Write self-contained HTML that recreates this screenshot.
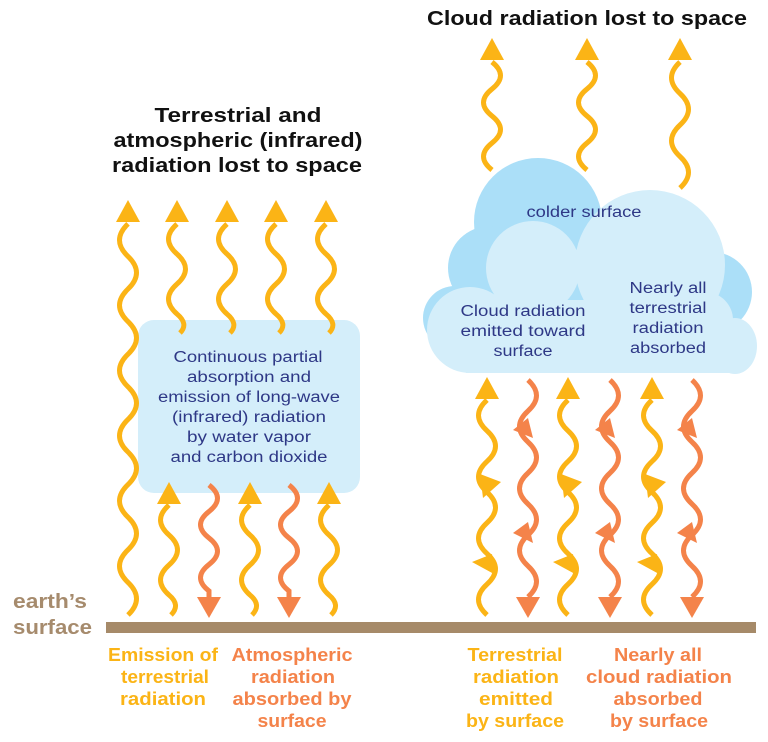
<!DOCTYPE html>
<html><head><meta charset="utf-8"><style>
html,body{margin:0;padding:0;background:#fff;}
svg{display:block;}
text{font-family:"Liberation Sans",sans-serif;}
.t{font-weight:bold;font-size:20px;fill:#111;text-anchor:middle;}
.n{font-size:15.5px;fill:#2e3886;text-anchor:middle;}
.y{font-weight:bold;font-size:18px;fill:#fbb416;text-anchor:middle;}
.o{font-weight:bold;font-size:18px;fill:#f4834a;text-anchor:middle;}
.wy{fill:none;stroke:#fbb416;stroke-width:5;}
.wo{fill:none;stroke:#f4834a;stroke-width:5;}
.hy{fill:#fbb416;}
.ho{fill:#f4834a;}
</style></head><body>
<svg width="768" height="742" viewBox="0 0 768 742" xmlns="http://www.w3.org/2000/svg">
<!-- titles -->
<text class="t" x="238" y="122" textLength="167" lengthAdjust="spacingAndGlyphs">Terrestrial and</text>
<text class="t" x="238" y="147" textLength="249" lengthAdjust="spacingAndGlyphs">atmospheric (infrared)</text>
<text class="t" x="237" y="172" textLength="250" lengthAdjust="spacingAndGlyphs">radiation lost to space</text>
<text class="t" x="587" y="25" textLength="320" lengthAdjust="spacingAndGlyphs">Cloud radiation lost to space</text>

<!-- left box -->
<rect x="138" y="320" width="222" height="173" rx="16" fill="#d4eefa"/>
<text class="n" x="248" y="362" textLength="149" lengthAdjust="spacingAndGlyphs">Continuous partial</text>
<text class="n" x="249" y="382" textLength="124" lengthAdjust="spacingAndGlyphs">absorption and</text>
<text class="n" x="249" y="402" textLength="182" lengthAdjust="spacingAndGlyphs">emission of long-wave</text>
<text class="n" x="249" y="422" textLength="154" lengthAdjust="spacingAndGlyphs">(infrared) radiation</text>
<text class="n" x="249" y="442" textLength="124" lengthAdjust="spacingAndGlyphs">by water vapor</text>
<text class="n" x="249" y="462" textLength="157" lengthAdjust="spacingAndGlyphs">and carbon dioxide</text>

<!-- left top short arrows -->
<path class="wy" d="M177 224 q-17 15 0 30 t0 30 t0 30 q12 10 3 19"/>
<path class="wy" d="M227 224 q-17 15 0 30 t0 30 t0 30 q12 10 3 19"/>
<path class="wy" d="M276 224 q-17 15 0 30 t0 30 t0 30 q12 10 3 19"/>
<path class="wy" d="M326 224 q-17 15 0 30 t0 30 t0 30 q12 10 3 19"/>
<polygon class="hy" points="165,222 189,222 177,200"/>
<polygon class="hy" points="215,222 239,222 227,200"/>
<polygon class="hy" points="264,222 288,222 276,200"/>
<polygon class="hy" points="314,222 338,222 326,200"/>
<!-- long arrow -->
<path class="wy" d="M128 615 q17 -16.3 0 -32.6 t0 -32.6 t0 -32.6 t0 -32.6 t0 -32.6 t0 -32.6 t0 -32.6 t0 -32.6 t0 -32.6 t0 -32.6 t0 -32.6 t0 -32.6"/>
<polygon class="hy" points="116,222 140,222 128,200"/>

<!-- bottom-left arrows -->
<path class="wy" d="M169 505 q-17 15 0 30 t0 30 t0 30 q12 10 2 20"/>
<path class="wy" d="M250 505 q-17 15 0 30 t0 30 t0 30 q12 10 2 20"/>
<path class="wy" d="M329 505 q-17 15 0 30 t0 30 t0 30 q12 10 2 20"/>
<polygon class="hy" points="157,504 181,504 169,482"/>
<polygon class="hy" points="238,504 262,504 250,482"/>
<polygon class="hy" points="317,504 341,504 329,482"/>
<path class="wo" d="M209 485 q17 13.25 0 26.5 t0 26.5 t0 26.5 t0 26.5 L209 598"/>
<path class="wo" d="M289 485 q17 13.25 0 26.5 t0 26.5 t0 26.5 t0 26.5 L289 598"/>
<polygon class="ho" points="197,597 221,597 209,618"/>
<polygon class="ho" points="277,597 301,597 289,618"/>

<!-- top-right arrows -->
<path class="wy" d="M492 170 q-17 -13.5 0 -27 t0 -27 t0 -27 t0 -27"/>
<path class="wy" d="M587 170 q-17 -13.5 0 -27 t0 -27 t0 -27 t0 -27"/>
<path class="wy" d="M680 188 q17 -15.75 0 -31.5 t0 -31.5 t0 -31.5 t0 -31.5"/>
<polygon class="hy" points="480,60 504,60 492,38"/>
<polygon class="hy" points="575,60 599,60 587,38"/>
<polygon class="hy" points="668,60 692,60 680,38"/>

<!-- cloud back -->
<g fill="#abdff8">
<circle cx="538" cy="222" r="64"/>
<circle cx="490" cy="268" r="42"/>
<circle cx="455" cy="318" r="32"/>
<circle cx="712" cy="292" r="40"/>
<rect x="462" y="262" width="256" height="80"/>
</g>
<!-- cloud front -->
<g fill="#d4eefa">
<circle cx="650" cy="265" r="75"/>
<circle cx="533" cy="268" r="47"/>
<circle cx="470" cy="330" r="43"/>
<circle cx="705" cy="320" r="28"/>
<ellipse cx="735" cy="346" rx="22" ry="28"/>
<rect x="466" y="300" width="250" height="73"/>
<rect x="466" y="330" width="268" height="43"/>
</g>
<text class="n" x="584" y="217" textLength="115" lengthAdjust="spacingAndGlyphs">colder surface</text>
<text class="n" x="523" y="316" textLength="125" lengthAdjust="spacingAndGlyphs">Cloud radiation</text>
<text class="n" x="523" y="336" textLength="125" lengthAdjust="spacingAndGlyphs">emitted toward</text>
<text class="n" x="523" y="356" textLength="59" lengthAdjust="spacingAndGlyphs">surface</text>
<text class="n" x="668" y="293" textLength="77" lengthAdjust="spacingAndGlyphs">Nearly all</text>
<text class="n" x="668" y="313" textLength="77" lengthAdjust="spacingAndGlyphs">terrestrial</text>
<text class="n" x="668" y="333" textLength="71" lengthAdjust="spacingAndGlyphs">radiation</text>
<text class="n" x="668" y="353" textLength="76" lengthAdjust="spacingAndGlyphs">absorbed</text>

<!-- right up arrows -->
<path class="wy" d="M487 615 q-17 -15.36 0 -30.71 t0 -30.71 t0 -30.71 t0 -30.71 t0 -30.71 t0 -30.71 t0 -30.71"/>
<path class="wy" d="M568 615 q-17 -15.36 0 -30.71 t0 -30.71 t0 -30.71 t0 -30.71 t0 -30.71 t0 -30.71 t0 -30.71"/>
<path class="wy" d="M652 615 q-17 -15.36 0 -30.71 t0 -30.71 t0 -30.71 t0 -30.71 t0 -30.71 t0 -30.71 t0 -30.71"/>
<polygon class="hy" points="475,399 499,399 487,377"/>
<polygon class="hy" points="556,399 580,399 568,377"/>
<polygon class="hy" points="640,399 664,399 652,377"/>
<polygon class="hy" points="480,474 501,482 483,498"/>
<polygon class="hy" points="561,474 582,482 564,498"/>
<polygon class="hy" points="645,474 666,482 648,498"/>
<polygon class="hy" points="472,562 492,554 494,574"/>
<polygon class="hy" points="553,562 573,554 575,574"/>
<polygon class="hy" points="637,562 657,554 659,574"/>

<!-- right down arrows -->
<path class="wo" d="M528 380 q17 15.5 0 31 t0 31 t0 31 t0 31 t0 31 t0 31 t0 31"/>
<path class="wo" d="M610 380 q17 15.5 0 31 t0 31 t0 31 t0 31 t0 31 t0 31 t0 31"/>
<path class="wo" d="M692 380 q17 15.5 0 31 t0 31 t0 31 t0 31 t0 31 t0 31 t0 31"/>
<polygon class="ho" points="516,597 540,597 528,618"/>
<polygon class="ho" points="598,597 622,597 610,618"/>
<polygon class="ho" points="680,597 704,597 692,618"/>
<polygon class="ho" points="513,430 528,418 533,438"/>
<polygon class="ho" points="595,430 610,418 615,438"/>
<polygon class="ho" points="677,430 692,418 697,438"/>
<polygon class="ho" points="513,533 528,522 533,543"/>
<polygon class="ho" points="595,533 610,522 615,543"/>
<polygon class="ho" points="677,533 692,522 697,543"/>

<!-- ground -->
<rect x="106" y="622" width="650" height="11" fill="#a68a69"/>
<text x="13" y="608" textLength="74" lengthAdjust="spacingAndGlyphs" style="font-weight:bold;font-size:20px;fill:#a68b6d;">earth’s</text>
<text x="13" y="634" textLength="79" lengthAdjust="spacingAndGlyphs" style="font-weight:bold;font-size:20px;fill:#a68b6d;">surface</text>

<!-- bottom labels -->
<text class="y" x="163" y="661" textLength="110" lengthAdjust="spacingAndGlyphs">Emission of</text>
<text class="y" x="165" y="683" textLength="88" lengthAdjust="spacingAndGlyphs">terrestrial</text>
<text class="y" x="163" y="705" textLength="86" lengthAdjust="spacingAndGlyphs">radiation</text>
<text class="o" x="292" y="661" textLength="121" lengthAdjust="spacingAndGlyphs">Atmospheric</text>
<text class="o" x="293" y="683" textLength="84" lengthAdjust="spacingAndGlyphs">radiation</text>
<text class="o" x="292" y="705" textLength="119" lengthAdjust="spacingAndGlyphs">absorbed by</text>
<text class="o" x="292" y="727" textLength="69" lengthAdjust="spacingAndGlyphs">surface</text>
<text class="y" x="515" y="661" textLength="95" lengthAdjust="spacingAndGlyphs">Terrestrial</text>
<text class="y" x="516" y="683" textLength="86" lengthAdjust="spacingAndGlyphs">radiation</text>
<text class="y" x="516" y="705" textLength="74" lengthAdjust="spacingAndGlyphs">emitted</text>
<text class="y" x="515" y="727" textLength="98" lengthAdjust="spacingAndGlyphs">by surface</text>
<text class="o" x="658" y="661" textLength="88" lengthAdjust="spacingAndGlyphs">Nearly all</text>
<text class="o" x="659" y="683" textLength="146" lengthAdjust="spacingAndGlyphs">cloud radiation</text>
<text class="o" x="658" y="705" textLength="89" lengthAdjust="spacingAndGlyphs">absorbed</text>
<text class="o" x="659" y="727" textLength="98" lengthAdjust="spacingAndGlyphs">by surface</text>
</svg>
</body></html>
